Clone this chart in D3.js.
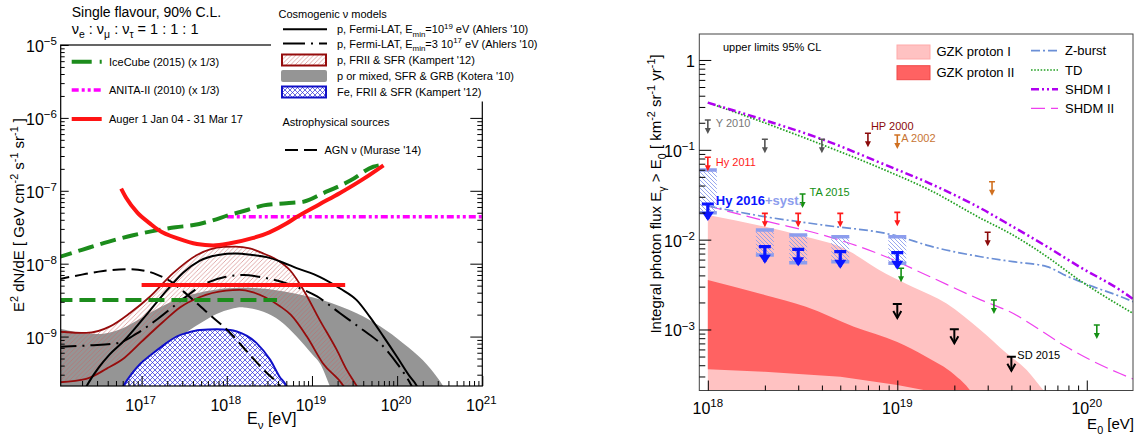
<!DOCTYPE html>
<html><head><meta charset="utf-8">
<script src="https://cdn.jsdelivr.net/npm/d3@7"></script>
<style>html,body{margin:0;padding:0;background:#fff;} svg{display:block;}</style>
</head><body>
<svg id="c" width="1138" height="434"></svg>
<script>
// ===== DATA (log10 E [eV], log10 value) =====
// Left panel: neutrino limits and models
const leftMajorExp = [17, 18, 19, 20, 21];
const leftYMajorExp = [-5, -6, -7, -8, -9];
const icecube = [[16.0,-7.92],[16.3,-7.81],[16.606,-7.7],[16.9,-7.61],[17.19,-7.54],[17.4,-7.5],[17.61,-7.47],[17.82,-7.41],[18.03,-7.332],[18.25,-7.26],[18.43,-7.2],[18.7,-7.17],[18.9,-7.15],[19.13,-7.034],[19.45,-6.86],[19.72,-6.67],[19.84,-6.64]];
const icecubeInt = [[16.0,-8.498],[18.59,-8.498]];
const anita = [[18.0,-7.355],[21.0,-7.355]];
const auger = [[16.76,-6.97],[16.82,-7.1],[16.95,-7.3],[17.1,-7.45],[17.2,-7.54],[17.44,-7.66],[17.65,-7.73],[17.84,-7.75],[18.04,-7.72],[18.3,-7.65],[18.5,-7.57],[18.7,-7.45],[18.82,-7.36],[19.08,-7.19],[19.33,-7.03],[19.6,-6.84],[19.84,-6.65]];
const augerInt = [[17.0,-8.292],[19.39,-8.292]];
const ahlers19 = [[16.3,-9.8],[16.355,-9.678],[16.5,-9.42],[16.62,-9.25],[16.8,-9.05],[16.95,-8.85],[17.1,-8.64],[17.3,-8.36],[17.49,-8.12],[17.68,-7.96],[17.9,-7.88],[18.1,-7.86],[18.3,-7.88],[18.47,-7.91],[18.65,-7.98],[18.82,-8.06],[19.09,-8.18],[19.33,-8.34],[19.525,-8.5],[19.68,-8.73],[19.84,-9.0],[20.0,-9.28],[20.15,-9.55],[20.23,-9.678],[20.27,-9.8]];
const ahlers3e17 = [[16.0,-9.14],[16.4,-9.12],[16.72,-9.09],[16.94,-8.96],[17.22,-8.73],[17.49,-8.48],[17.72,-8.29],[17.99,-8.18],[18.2,-8.155],[18.43,-8.19],[18.62,-8.24],[18.82,-8.32],[19.06,-8.45],[19.33,-8.68],[19.6,-8.91],[19.8,-9.09],[20.0,-9.37],[20.17,-9.678],[20.22,-9.8]];
const muraseAGN = [[16.0,-8.22],[16.3,-8.15],[16.55,-8.1],[16.86,-8.075],[17.05,-8.1],[17.18,-8.15],[17.35,-8.25],[17.49,-8.38],[17.76,-8.66],[18.04,-8.95],[18.27,-9.25],[18.47,-9.5],[18.62,-9.678],[18.68,-9.8]];
const kampertPUpper = [[16.0,-8.93],[16.35,-8.95],[16.63,-8.86],[16.86,-8.68],[17.1,-8.45],[17.37,-8.13],[17.65,-7.88],[17.96,-7.77],[18.1,-7.765],[18.27,-7.79],[18.43,-7.86],[18.62,-7.97],[18.75,-8.1],[18.9,-8.36],[19.09,-8.77],[19.29,-9.18],[19.41,-9.46],[19.525,-9.678],[19.6,-9.85]];
const kampertPLower = [[16.0,-9.63],[16.35,-9.58],[16.59,-9.44],[16.8,-9.29],[17.0,-9.07],[17.25,-8.8],[17.45,-8.6],[17.68,-8.46],[17.99,-8.37],[18.15,-8.36],[18.3,-8.39],[18.45,-8.46],[18.62,-8.58],[18.75,-8.7],[18.94,-9.0],[19.13,-9.37],[19.37,-9.678],[19.45,-9.85]];
const koteraUpper = [[16.0,-8.88],[16.3,-8.95],[16.55,-8.96],[16.75,-8.9],[17.0,-8.74],[17.3,-8.55],[17.6,-8.42],[17.9,-8.35],[18.15,-8.33],[18.4,-8.34],[18.62,-8.37],[19.13,-8.5],[19.525,-8.68],[19.8,-8.86],[20.07,-9.09],[20.3,-9.32],[20.465,-9.55],[20.54,-9.678],[20.6,-9.85]];
const koteraLower = [[16.0,-10.2],[16.5,-10.0],[16.785,-9.678],[16.95,-9.5],[17.1,-9.36],[17.29,-9.17],[17.49,-8.97],[17.685,-8.82],[17.88,-8.69],[18.05,-8.62],[18.2,-8.6],[18.43,-8.66],[18.62,-8.78],[18.82,-9.0],[19.0,-9.24],[19.094,-9.37],[19.21,-9.678],[19.3,-9.9]];
const kampertFeUpper = [[16.7,-9.85],[16.785,-9.678],[16.98,-9.38],[17.1,-9.26],[17.255,-9.12],[17.41,-9.0],[17.53,-8.95],[17.685,-8.91],[17.88,-8.9],[18.04,-8.91],[18.117,-8.93],[18.35,-9.09],[18.51,-9.32],[18.62,-9.55],[18.7,-9.678],[18.75,-9.85]];

// Right panel: photon limits and models
const rightMajorExp = [18, 19, 20];
const rightYMajorExp = [0, -1, -2, -3];
const gzk1Upper = [[18.0,-1.725],[18.31,-1.86],[18.5,-1.96],[18.7,-2.08],[18.94,-2.38],[19.085,-2.53],[19.26,-2.71],[19.436,-3.0],[19.577,-3.265],[19.683,-3.45],[19.77,-3.674],[19.82,-3.8]];
const gzk1Lower = [[19.82,-4.0],[18.0,-4.0]];
const gzk2Upper = [[18.0,-2.449],[18.3,-2.616],[18.518,-2.746],[18.771,-2.969],[19.0,-3.14],[19.15,-3.3],[19.3,-3.5],[19.385,-3.68],[19.42,-3.8]];
const gzk2Lower = [[19.3,-3.8],[19.152,-3.68],[19.0,-3.618],[18.7,-3.526],[18.3,-3.471],[18.0,-3.443]];
const zburst = [[18.0,-1.625],[18.3,-1.744],[18.6,-1.835],[19.0,-1.96],[19.17,-2.07],[19.44,-2.19],[19.61,-2.245],[19.79,-2.3],[19.9,-2.41],[20.03,-2.52],[20.18,-2.635],[20.244,-2.69]];
const td = [[18.0,-0.475],[18.3,-0.70],[18.6,-0.94],[18.94,-1.23],[19.17,-1.447],[19.44,-1.762],[19.61,-1.948],[19.79,-2.19],[19.96,-2.449],[20.14,-2.69],[20.244,-2.82]];
const shdm1 = [[18.0,-0.475],[18.3,-0.67],[18.6,-0.88],[18.94,-1.17],[19.17,-1.373],[19.44,-1.651],[19.61,-1.856],[19.79,-2.078],[19.96,-2.3],[20.175,-2.56],[20.244,-2.66]];
const shdm2 = [[18.0,-1.625],[18.3,-1.79],[18.61,-1.95],[18.94,-2.19],[19.17,-2.41],[19.44,-2.67],[19.61,-2.82],[19.75,-3.0],[19.89,-3.19],[20.02,-3.34],[20.175,-3.49],[20.244,-3.55]];
const limY2010 = [[18.0,-0.668],[18.301,-0.883],[18.602,-0.883]];
const limHP2000 = [[18.845,-0.816],[19.477,-1.918]];
const limA2002 = [[19.0,-0.835],[19.5,-1.355]];
const limHy2011 = [[18.0,-1.083],[18.301,-1.707],[18.477,-1.707],[18.699,-1.707],[19.0,-1.696]];
const limTA2015 = [[18.5,-1.492],[19.02,-2.319],[19.51,-2.672],[20.053,-2.95]];
const limSD2015 = [[19.0,-2.716],[19.301,-2.998],[19.602,-3.303]];
const limHy2016 = [[18.0,-1.603],[18.301,-2.078],[18.477,-2.108],[18.699,-2.134],[19.0,-2.145]];
const hy2016SystUp = [[18.0,-1.225],[18.301,-1.892],[18.477,-1.948],[18.699,-1.967],[19.0,-1.967]];
const hy2016SystLo = [[18.0,-1.70],[18.301,-2.171],[18.477,-2.256],[18.699,-2.245],[19.0,-2.263]];

// ===== SETUP =====
const FONT = '"Liberation Sans", Arial, Helvetica, sans-serif';
const svg = d3.select('#c').attr('font-family', FONT);
const defs = svg.append('defs');
const p10 = v => Math.pow(10, v);

const pr = defs.append('pattern').attr('id','hatchRed').attr('patternUnits','userSpaceOnUse').attr('width',4.5).attr('height',4.5);
pr.append('path').attr('d','M-1,1 l2,-2 M0,4.5 l4.5,-4.5 M3.5,5.5 l2,-2').attr('stroke','#c86464').attr('stroke-width',0.55);
const pb = defs.append('pattern').attr('id','crossBlue').attr('patternUnits','userSpaceOnUse').attr('width',5).attr('height',5);
pb.append('rect').attr('width',5).attr('height',5).attr('fill','#fff');
pb.append('path').attr('d','M0,0 L5,5 M5,0 L0,5').attr('stroke','#2a2ad8').attr('stroke-width',0.7);
const pl = defs.append('pattern').attr('id','hatchLB').attr('patternUnits','userSpaceOnUse').attr('width',4).attr('height',4);
pl.append('path').attr('d','M-1,3 l2,2 M0,0 l4,4 M3,-1 l2,2').attr('stroke','#8c9ded').attr('stroke-width',0.9);

function rich(sel, parts, size) {
  let cur = 0;
  for (const p of parts) {
    const [t, k] = typeof p === 'string' ? [p, 'n'] : p;
    const target = k === 'sup' ? -0.42*size : (k === 'sub' ? 0.3*size : 0);
    sel.append('tspan').attr('dy', (target - cur).toFixed(2)).attr('font-size', k === 'n' ? size : size*0.72).text(t);
    cur = target;
  }
  return sel;
}

// ===== LEFT PANEL =====
const xL = d3.scaleLog().domain([p10(16.05), 1e21]).range([60.7, 482.3]);
const yL = d3.scaleLog().domain([p10(-9.678), 1e-5]).range([386, 45]);
defs.append('clipPath').attr('id','clipL').append('rect').attr('x',60.7).attr('y',45).attr('width',421.6).attr('height',341);
const gL = svg.append('g');
const plotL = gL.append('g').attr('clip-path','url(#clipL)');
const lineL = d3.line().x(d => xL(p10(d[0]))).y(d => yL(p10(d[1]))).curve(d3.curveMonotoneX);
const polyL = d3.line().x(d => xL(p10(d[0]))).y(d => yL(p10(d[1]))).curve(d3.curveCatmullRom);
const band = (up, lo) => polyL([...up, ...lo.slice().reverse()]) + 'Z';

plotL.append('path').attr('d', band(koteraUpper, koteraLower)).attr('fill','#959595');
plotL.append('path').attr('d', band(kampertPUpper, kampertPLower)).attr('fill','url(#hatchRed)');
plotL.append('path').attr('d', lineL(kampertPUpper)).attr('fill','none').attr('stroke','#960c0c').attr('stroke-width',1.8);
plotL.append('path').attr('d', lineL(kampertPLower)).attr('fill','none').attr('stroke','#960c0c').attr('stroke-width',1.8);
const feLower = [[18.75,-10.5],[16.7,-10.5]];
plotL.append('path').attr('d', polyL([...kampertFeUpper, ...feLower]) + 'Z').attr('fill','url(#crossBlue)');
plotL.append('path').attr('d', lineL(kampertFeUpper)).attr('fill','none').attr('stroke','#1010c8').attr('stroke-width',2);
plotL.append('path').attr('d', lineL(muraseAGN)).attr('fill','none').attr('stroke','#000').attr('stroke-width',2).attr('stroke-dasharray','13,6');
plotL.append('path').attr('d', lineL(ahlers3e17)).attr('fill','none').attr('stroke','#000').attr('stroke-width',2).attr('stroke-dasharray','20,6,2,6');
plotL.append('path').attr('d', lineL(ahlers19)).attr('fill','none').attr('stroke','#000').attr('stroke-width',2);
plotL.append('path').attr('d', lineL(icecubeInt)).attr('fill','none').attr('stroke','#1c8c1c').attr('stroke-width',4).attr('stroke-dasharray','16,7');
plotL.append('path').attr('d', lineL(anita)).attr('fill','none').attr('stroke','#ff00ff').attr('stroke-width',3.5).attr('stroke-dasharray','7,3,3,3,3,3');
plotL.append('path').attr('d', lineL(icecube)).attr('fill','none').attr('stroke','#1c8c1c').attr('stroke-width',4).attr('stroke-dasharray','16,7');
plotL.append('path').attr('d', lineL(auger)).attr('fill','none').attr('stroke','#ff1414').attr('stroke-width',4);
plotL.append('path').attr('d', lineL(augerInt)).attr('fill','none').attr('stroke','#ff1414').attr('stroke-width',4);

// frame + ticks
gL.append('rect').attr('x',60.7).attr('y',45).attr('width',421.6).attr('height',341).attr('fill','none').attr('stroke','#000').attr('stroke-width',1.2);
const xLt = xL.ticks(), yLt = yL.ticks();
const isMaj = v => Math.abs(Math.log10(v) - Math.round(Math.log10(v))) < 1e-6;
const clean = g => { g.select('.domain').remove(); g.selectAll('line').attr('stroke','#000'); };
gL.append('g').attr('transform','translate(0,386)').call(d3.axisBottom(xL).tickValues(xLt.filter(v=>!isMaj(v))).tickSize(-5).tickFormat('')).call(clean);
gL.append('g').attr('transform','translate(0,386)').call(d3.axisBottom(xL).tickValues(xLt.filter(isMaj)).tickSize(-10).tickFormat('')).call(clean);
gL.append('g').attr('transform','translate(60.7,0)').call(d3.axisLeft(yL).tickValues(yLt.filter(v=>!isMaj(v))).tickSize(-4).tickFormat('')).call(clean);
gL.append('g').attr('transform','translate(60.7,0)').call(d3.axisLeft(yL).tickValues(yLt.filter(isMaj)).tickSize(-8).tickFormat('')).call(clean);
gL.append('g').attr('transform','translate(482.3,0)').call(d3.axisRight(yL).tickValues(yLt.filter(v=>!isMaj(v))).tickSize(-5).tickFormat('')).call(clean);
gL.append('g').attr('transform','translate(482.3,0)').call(d3.axisRight(yL).tickValues(yLt.filter(isMaj)).tickSize(-12).tickFormat('')).call(clean);

leftMajorExp.forEach(e => {
  rich(gL.append('text').attr('x', xL(p10(e)) - 1).attr('y', 411).attr('text-anchor','middle').attr('fill','#000'), ['10', [String(e),'sup']], 16);
});
leftYMajorExp.forEach(e => {
  rich(gL.append('text').attr('x', 57).attr('y', yL(p10(e)) + 7).attr('text-anchor','end').attr('fill','#000'), ['10', ['\u2212' + Math.abs(e),'sup']], 16);
});
rich(gL.append('text').attr('x',247).attr('y',424).attr('fill','#000'), ['E', ['\u03bd','sub'], ' [eV]'], 16);
rich(gL.append('text').attr('transform','translate(24,215) rotate(-90)').attr('text-anchor','middle').attr('fill','#000'),
  ['E', ['2','sup'], ' dN/dE  [ GeV cm', ['-2','sup'], ' s', ['-1','sup'], ' sr', ['-1','sup'], ' ]'], 15);

// title texts
gL.append('text').attr('x',71.7).attr('y',17).attr('font-size',14).text('Single flavour, 90% C.L.');
rich(gL.append('text').attr('x',71.7).attr('y',34), ['\u03bd', ['e','sub'], ' : \u03bd', ['\u03bc','sub'], ' : \u03bd', ['\u03c4','sub'], ' = 1 : 1 : 1'], 14.5);

// inner legend (limits)
const legL = [
  {y:61.7, color:'#1c8c1c', w:4, dash:'20,8', label:'IceCube (2015) (x 1/3)'},
  {y:90, color:'#ff00ff', w:3.5, dash:'7,3,3,3,3,3', label:'ANITA-II (2010) (x 1/3)'},
  {y:119, color:'#ff1414', w:4, dash:null, label:'Auger 1 Jan 04 - 31 Mar 17'}
];
legL.forEach(d => {
  gL.append('line').attr('x1',71.7).attr('x2',101.7).attr('y1',d.y).attr('y2',d.y).attr('stroke',d.color).attr('stroke-width',d.w).attr('stroke-dasharray',d.dash);
  gL.append('text').attr('x',109).attr('y',d.y+4).attr('font-size',11).text(d.label);
});

// cosmogenic legend box (white, covers frame top-right)
gL.append('rect').attr('x',271).attr('y',0).attr('width',290).attr('height',101.5).attr('fill','#fff');
rich(gL.append('text').attr('x',278.5).attr('y',17.5), ['Cosmogenic  \u03bd models'], 11);
gL.append('line').attr('x1',283).attr('x2',327).attr('y1',29.3).attr('y2',29.3).attr('stroke','#000').attr('stroke-width',2);
rich(gL.append('text').attr('x',337).attr('y',33.3), ['p, Fermi-LAT, E', ['min','sub'], '=10', ['19','sup'], ' eV (Ahlers \'10)'], 11);
gL.append('line').attr('x1',283).attr('x2',327).attr('y1',43.5).attr('y2',43.5).attr('stroke','#000').attr('stroke-width',2).attr('stroke-dasharray','22,6,2,6');
rich(gL.append('text').attr('x',337).attr('y',47.5), ['p, Fermi-LAT, E', ['min','sub'], '=3 10', ['17','sup'], ' eV (Ahlers \'10)'], 11);
gL.append('rect').attr('x',282).attr('y',54.5).attr('width',44).attr('height',11).attr('fill','url(#hatchRed)').attr('stroke','#960c0c').attr('stroke-width',2);
gL.append('text').attr('x',337).attr('y',64).attr('font-size',11).text('p, FRII & SFR (Kampert \'12)');
gL.append('rect').attr('x',281).attr('y',70).attr('width',46).attr('height',12).attr('rx',2).attr('fill','#959595');
gL.append('text').attr('x',337).attr('y',79.5).attr('font-size',11).text('p or mixed, SFR & GRB (Kotera \'10)');
gL.append('rect').attr('x',282).attr('y',86.5).attr('width',44).attr('height',11).attr('fill','url(#crossBlue)').attr('stroke','#1010c8').attr('stroke-width',2);
gL.append('text').attr('x',337).attr('y',95.5).attr('font-size',11).text('Fe, FRII & SFR (Kampert \'12)');
gL.append('text').attr('x',282.4).attr('y',125.5).attr('font-size',11).text('Astrophysical sources');
gL.append('line').attr('x1',285).attr('x2',318).attr('y1',150).attr('y2',150).attr('stroke','#000').attr('stroke-width',2).attr('stroke-dasharray','13,6');
rich(gL.append('text').attr('x',324.4).attr('y',154), ['AGN \u03bd (Murase \'14)'], 11);

// ===== RIGHT PANEL =====
const xR = d3.scaleLog().domain([p10(17.955), p10(20.244)]).range([699.3, 1133]);
const yR = d3.scaleLog().domain([p10(-3.679), p10(0.289)]).range([390.5, 34]);
defs.append('clipPath').attr('id','clipR').append('rect').attr('x',699.3).attr('y',34).attr('width',433.7).attr('height',356.5);
const gR = svg.append('g');
const plotR = gR.append('g').attr('clip-path','url(#clipR)');
const lineR = d3.line().x(d => xR(p10(d[0]))).y(d => yR(p10(d[1]))).curve(d3.curveMonotoneX);
const ptR = d => 'L' + xR(p10(d[0])) + ',' + yR(p10(d[1]));
plotR.append('path').attr('d', lineR(gzk1Upper) + gzk1Lower.map(ptR).join('') + 'Z').attr('fill','#ffc2c2');
plotR.append('path').attr('d', lineR(gzk2Upper) + gzk2Lower.map(ptR).join('') + 'Z').attr('fill','#ff6262');
plotR.append('path').attr('d', lineR(shdm2)).attr('fill','none').attr('stroke','#ee40ee').attr('stroke-width',1.2).attr('stroke-dasharray','14,6');
plotR.append('path').attr('d', lineR(zburst)).attr('fill','none').attr('stroke','#6b8fd6').attr('stroke-width',1.7).attr('stroke-dasharray','9,3,2,3');
plotR.append('path').attr('d', lineR(td)).attr('fill','none').attr('stroke','#23a023').attr('stroke-width',1.7).attr('stroke-dasharray','1.6,1.6');
plotR.append('path').attr('d', lineR(shdm1)).attr('fill','none').attr('stroke','#b000f0').attr('stroke-width',2.5).attr('stroke-dasharray','8,3,2,3,2,3');

// Hy 2016 systematics boxes
const syst = hy2016SystUp.map((d,i) => ({e:d[0], up:d[1], lo:hy2016SystLo[i][1]}));
const sg = plotR.selectAll('g.syst').data(syst).join('g').attr('class','syst');
sg.append('rect').attr('x', d => xR(p10(d.e)) - 9).attr('y', d => yR(p10(d.up))).attr('width',18).attr('height', d => yR(p10(d.lo)) - yR(p10(d.up))).attr('fill','url(#hatchLB)');
sg.append('line').attr('x1', d => xR(p10(d.e)) - 9).attr('x2', d => xR(p10(d.e)) + 9).attr('y1', d => yR(p10(d.up))).attr('y2', d => yR(p10(d.up))).attr('stroke','#8c9ded').attr('stroke-width',3.5);
sg.append('line').attr('x1', d => xR(p10(d.e)) - 9).attr('x2', d => xR(p10(d.e)) + 9).attr('y1', d => yR(p10(d.lo))).attr('y2', d => yR(p10(d.lo))).attr('stroke','#8c9ded').attr('stroke-width',3.5);

function arrows(pts, color, o) {
  const grp = plotR.append('g').selectAll('g').data(pts).join('g').attr('transform', d => `translate(${xR(p10(d[0]))},${yR(p10(d[1]))})`);
  grp.append('line').attr('x1',-o.cap).attr('x2',o.cap).attr('y1',0).attr('y2',0).attr('stroke',color).attr('stroke-width',o.sw);
  grp.append('line').attr('x1',0).attr('x2',0).attr('y1',0).attr('y2',o.stem - (o.open ? 0 : 2)).attr('stroke',color).attr('stroke-width',o.sw);
  const hp = `M${-o.hw/2},${o.stem - o.hh} L0,${o.stem} L${o.hw/2},${o.stem - o.hh}`;
  if (o.open) grp.append('path').attr('d', hp).attr('fill','none').attr('stroke',color).attr('stroke-width',o.sw);
  else grp.append('path').attr('d', hp + 'Z').attr('fill',color);
}
const small = {cap:3, stem:14, hw:6, hh:6, sw:1.6};
arrows(limY2010, '#555', small);
arrows(limHP2000, '#8b0a0a', small);
arrows(limA2002, '#d07020', small);
arrows(limHy2011, '#ff1a1a', small);
arrows(limTA2015, '#149014', small);
arrows(limSD2015, '#000', {cap:4.5, stem:14, hw:8, hh:7, sw:2, open:true});
arrows(limHy2016, '#0a14ff', {cap:6, stem:17, hw:12, hh:9, sw:3.2});

// point labels
const lab = (pt, dx, dy, text, color, size, weight) =>
  gR.append('text').attr('x', xR(p10(pt[0])) + dx).attr('y', yR(p10(pt[1])) + dy).attr('fill', color).attr('font-size', size).attr('font-weight', weight || 'normal').text(text);
lab(limY2010[0], 8, 7, 'Y 2010', '#777', 11);
lab(limHy2011[0], 8, 9, 'Hy 2011', '#ff1a1a', 11);
lab(limHP2000[0], 3, -3.5, 'HP 2000', '#8b0a0a', 11);
lab(limA2002[0], 4, 7.5, 'A 2002', '#c87533', 11);
lab(limTA2015[0], 7, 2, 'TA 2015', '#149014', 11);
lab(limSD2015[2], 6, 2.5, 'SD 2015', '#000', 11);
const hyT = gR.append('text').attr('x', xR(p10(limHy2016[0][0])) + 8).attr('y', yR(p10(limHy2016[0][1])) + 1).attr('font-size',13).attr('font-weight','bold');
hyT.append('tspan').attr('fill','#0a14ff').text('Hy 2016');
hyT.append('tspan').attr('fill','#8c9ded').text('+syst.');

// frame + ticks
gR.append('rect').attr('x',699.3).attr('y',34).attr('width',433.7).attr('height',356.5).attr('fill','none').attr('stroke','#444').attr('stroke-width',1);
const xRt = xR.ticks(), yRt = yR.ticks();
gR.append('g').attr('transform','translate(0,390.5)').call(d3.axisBottom(xR).tickValues(xRt.filter(v=>!isMaj(v))).tickSize(-5).tickFormat('')).call(clean);
gR.append('g').attr('transform','translate(0,390.5)').call(d3.axisBottom(xR).tickValues(xRt.filter(isMaj)).tickSize(-10).tickFormat('')).call(clean);
gR.append('g').attr('transform','translate(699.3,0)').call(d3.axisLeft(yR).tickValues(yRt.filter(v=>!isMaj(v))).tickSize(-6).tickFormat('')).call(clean);
gR.append('g').attr('transform','translate(699.3,0)').call(d3.axisLeft(yR).tickValues(yRt.filter(isMaj)).tickSize(-12).tickFormat('')).call(clean);
rightMajorExp.forEach(e => {
  rich(gR.append('text').attr('x', xR(p10(e))).attr('y', 414).attr('text-anchor','middle'), ['10', [String(e),'sup']], 16);
});
rightYMajorExp.forEach(e => {
  const t = gR.append('text').attr('x', 695).attr('y', yR(p10(e)) + 7).attr('text-anchor','end');
  if (e === 0) rich(t, ['1'], 16); else rich(t, ['10', ['\u2212' + Math.abs(e),'sup']], 16);
});
rich(gR.append('text').attr('x',1134).attr('y',429).attr('text-anchor','end'), ['E', ['0','sub'], ' [eV]'], 15);
rich(gR.append('text').attr('transform','translate(661,194) rotate(-90)').attr('text-anchor','middle'),
  ['Integral photon flux E', ['\u03b3','sub'], ' > E', ['0','sub'], ' [ km', ['-2','sup'], ' sr', ['-1','sup'], ' yr', ['-1','sup'], ']'], 15);

// right legend
gR.append('text').attr('x',723).attr('y',51).attr('font-size',11).text('upper limits 95% CL');
gR.append('rect').attr('x',897).attr('y',45).attr('width',33).attr('height',14).attr('fill','#ffc2c2').attr('stroke','#ffaaaa');
gR.append('text').attr('x',936.4).attr('y',56.3).attr('font-size',13).text('GZK proton I');
gR.append('rect').attr('x',897).attr('y',65.7).attr('width',33).attr('height',14).attr('fill','#ff6262').attr('stroke','#f04848');
gR.append('text').attr('x',936.4).attr('y',76.5).attr('font-size',13).text('GZK proton II');
const legR = [
  {y:50.7, color:'#6b8fd6', w:1.7, dash:'9,3,2,3', label:'Z-burst'},
  {y:70, color:'#23a023', w:1.7, dash:'1.6,1.6', label:'TD'},
  {y:89.3, color:'#b000f0', w:2.5, dash:'8,3,2,3,2,3', label:'SHDM I'},
  {y:108.3, color:'#ee40ee', w:1.2, dash:'14,6', label:'SHDM II'}
];
legR.forEach(d => {
  gR.append('line').attr('x1',1031).attr('x2',1058).attr('y1',d.y).attr('y2',d.y).attr('stroke',d.color).attr('stroke-width',d.w).attr('stroke-dasharray',d.dash);
  gR.append('text').attr('x',1065).attr('y',d.y+4.6).attr('font-size',13).text(d.label);
});
</script>
</body></html>
